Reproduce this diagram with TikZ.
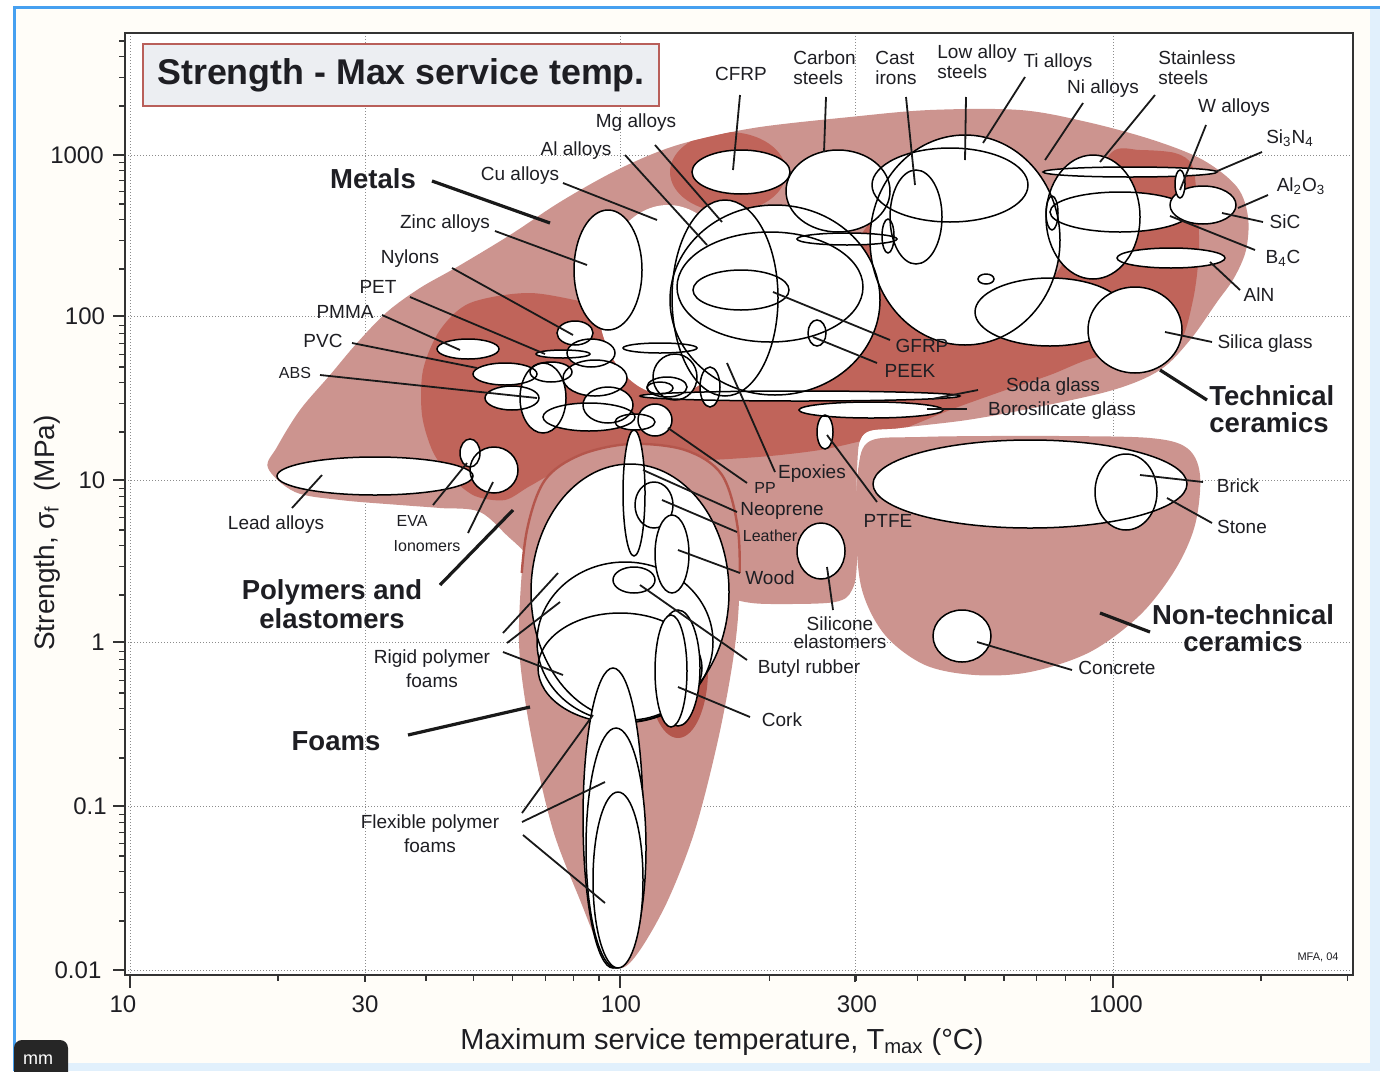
\documentclass[tikz,border=0pt]{standalone}
\usepackage{fontspec}
\setmainfont{Liberation Sans}
\definecolor{envl}{RGB}{204,148,143}
\definecolor{envd}{RGB}{192,100,90}
\definecolor{envo}{RGB}{180,86,76}
\definecolor{labc}{RGB}{30,30,35}
\definecolor{scrblue}{RGB}{70,160,240}
\definecolor{paleblue}{RGB}{225,240,252}
\definecolor{cream}{RGB}{255,253,248}
\definecolor{titlefill}{RGB}{236,238,242}
\definecolor{titledraw}{RGB}{185,95,90}
\definecolor{gridc}{RGB}{140,140,140}
\begin{document}
\begin{tikzpicture}[x=0.5pt,y=-0.5pt,
  outl/.style={draw=black, line width=0.75pt},
  leader/.style={draw=black!90, line width=0.9pt},
  bleader/.style={draw=black!90, line width=1.6pt},
  lab/.style={font=\fontsize{9.5}{10}\selectfont, text=labc, inner sep=0pt},
  slab/.style={font=\fontsize{8}{9}\selectfont, text=labc, inner sep=0pt},
  blab/.style={font=\fontsize{13.75}{13.5}\selectfont\bfseries, text=labc, inner sep=0pt},
  ticklab/.style={font=\fontsize{12}{12}\selectfont, text=labc, inner sep=0pt},
  gridl/.style={draw=gridc, line width=0.5pt, densely dotted},
  tickl/.style={draw=black!80, line width=0.6pt}]
\useasboundingbox (0,0) rectangle (1380,1071);
% screenshot background
\fill[white] (0,0) rectangle (1380,1071);
\fill[cream] (14,7) rectangle (1380,1071);
\fill[paleblue] (1370,7) rectangle (1380,1071);
\fill[paleblue] (14,1063) rectangle (1380,1071);
\draw[scrblue, line width=1.5pt] (14,1071) -- (14,7) -- (1380,7);
\fill[white] (125,33) rectangle (1353,975);
% grid
\foreach \gx in {130,365,620,855,1113} \draw[gridl] (\gx,33) -- (\gx,975);
\foreach \gy in {155,316,480,642,806,970} \draw[gridl] (125,\gy) -- (1353,\gy);
% envelopes
\def\Upath{plot[smooth cycle, tension=0.55] coordinates {(268,468) (277,447) (300,410) (330,375) (357,343) (387,312) (420,288) (457,267) (510,235) (560,202) (613,172) (660,151) (700,139) (760,127) (850,117) (930,110) (1020,110) (1087,122) (1153,140) (1203,160) (1237,187) (1248,217) (1246,250) (1234,278) (1217,302) (1190,340) (1160,370) (1113,390) (1033,408) (967,420) (900,428) (864,434) (857,470) (857,560) (852,590) (835,602) (780,604) (745,602) (700,590) (620,580) (545,565) (512,540) (480,512) (440,508) (400,505) (340,500) (295,492)}}
\def\Fpath{plot[smooth cycle, tension=0.55] coordinates {(520,600) (527,530) (545,480) (580,455) (630,444) (685,450) (722,475) (738,530) (739,600) (733,660) (718,740) (695,830) (668,900) (640,950) (621,968) (602,952) (580,900) (553,830) (532,740) (520,660)}}
\def\Npath{plot[smooth cycle, tension=0.55] coordinates {(870,441) (920,437) (990,436) (1060,436) (1150,438) (1187,448) (1200,475) (1195,525) (1175,570) (1140,615) (1090,652) (1030,672) (975,675) (925,665) (885,635) (862,590) (856,530) (858,470)}}
\fill[envl] \Upath;
\fill[envl] \Npath;
\begin{scope}
\clip \Upath;
\fill[envd] plot[smooth cycle, tension=0.5] coordinates {(470,303) (440,330) (423,370) (422,415) (433,452) (452,478) (475,496) (505,500) (530,486) (565,468) (610,463) (660,461) (710,460) (770,456) (820,450) (857,442) (900,430) (950,410) (1000,392) (1050,375) (1093,358) (1140,352) (1178,345) (1193,300) (1199,250) (1197,200) (1192,165) (1175,153) (1140,150) (1112,152) (1085,200) (1060,268) (1000,330) (930,310) (885,262) (872,222) (840,265) (780,305) (690,320) (600,305) (530,293)};
\fill[envd] (728,172) ellipse [x radius=58, y radius=40];
\end{scope}
\fill[envl] \Fpath;
\begin{scope}
\clip (500,400) rectangle (760,572);
\draw[envo, line width=1.2pt] \Fpath;
\end{scope}
\fill[envo] (678,670) ellipse [x radius=30, y radius=68];
% white region without outline
\fill[white] (668,300) ellipse [x radius=70, y radius=95];
% group A material bubbles
\newcommand\shapesA{%
 \E{965}{240}{95}{105}\E{950}{185}{78}{37}\E{1093}{217}{47}{62}\E{1050}{312}{75}{34}%
 \E{986}{279}{8}{5}\E{838}{191}{52}{41}\E{916}{217}{26}{47}\E{888}{236}{6}{17}\E{847}{239}{50}{6}%
 \E{741}{172}{49}{22}\E{775}{300}{105}{95}\E{725}{298}{53}{98}\E{770}{287}{93}{55}\E{741}{290}{48}{20}%
 \E{817}{333}{9}{13}\E{608}{270}{34}{60}\E{1130}{172}{87}{5}\E{1120}{212}{70}{20}\E{1052}{213}{6}{17}%
 \E{1171}{258}{54}{10}\E{800}{396}{160}{5}\E{871}{410}{72}{8}\E{825}{432}{8}{17}\E{821}{551}{24}{28}%
 \E{1030}{484}{157}{44}\E{1126}{492}{31}{38}\E{962}{636}{29}{26}%
 \E{375}{476}{98}{19}\E{470}{453}{10}{14}\E{494}{470}{24}{23}%
 \E{468}{349}{31}{10}\E{505}{374}{32}{11}\E{512}{398}{27}{12}\E{543}{398}{23}{35}\E{551}{372}{21}{10}%
 \E{575}{333}{18}{12}\E{591}{353}{24}{14}\E{563}{354}{27}{4}\E{595}{378}{32}{18}\E{608}{405}{25}{18}%
 \E{589}{417}{46}{14}\E{635}{422}{20}{8}\E{655}{420}{17}{16}\E{660}{348}{37}{5}\E{675}{377}{22}{23}%
 \E{667}{387}{20}{10}\E{660}{388}{13}{6}\E{710}{387}{10}{20}%
 \E{630}{592}{99}{128}\E{625}{642}{88}{80}\E{620}{668}{82}{55}%
 \E{634}{493}{11}{63}\E{654}{505}{19}{23}\E{634}{580}{21}{13}}
\def\E#1#2#3#4{\fill[white] (#1,#2) ellipse [x radius=#3, y radius=#4];}
\shapesA
\def\E#1#2#3#4{\draw[outl] (#1,#2) ellipse [x radius=#3, y radius=#4];}
\shapesA
% group B, drawn one over another
\def\E#1#2#3#4{\filldraw[outl, fill=white] (#1,#2) ellipse [x radius=#3, y radius=#4];}
\E{1135}{330}{47}{43}\E{1203}{205}{33}{19}\E{1180}{184}{5}{14}\E{672}{554}{17}{39}
\E{613}{818}{30}{150}\E{616}{848}{30}{120}\E{618}{880}{25}{88}
\E{678}{668}{22}{58}\E{671}{671}{16}{56}
% leaders
\newcommand\leader[3]{\coordinate (#1-a) at #2; \coordinate (#1-b) at #3; \draw[leader] (#1-a) -- (#1-b);}
\newcommand\bleader[3]{\coordinate (#1-a) at #2; \coordinate (#1-b) at #3; \draw[bleader] (#1-a) -- (#1-b);}
\leader{cfrp}{(740,95)}{(733,170)}
\leader{carbon}{(826,97)}{(824,152)}
\leader{cast}{(906,97)}{(915,185)}
\leader{lowal}{(966,97)}{(965,160)}
\leader{ti}{(1025,77)}{(983,143)}
\leader{ni}{(1083,103)}{(1045,160)}
\leader{stain}{(1155,95)}{(1100,162)}
\leader{w}{(1206,125)}{(1180,190)}
\leader{sin}{(1262,152)}{(1215,172)}
\leader{alo}{(1268,195)}{(1238,208)}
\leader{sic}{(1263,222)}{(1222,213)}
\leader{bc}{(1255,250)}{(1170,216)}
\leader{aln}{(1240,290)}{(1210,262)}
\leader{silica}{(1212,342)}{(1165,332)}
\leader{soda}{(978,390)}{(932,399)}
\leader{boro}{(967,409)}{(927,409)}
\leader{gfrp}{(890,340)}{(773,292)}
\leader{peek}{(877,363)}{(813,337)}
\leader{epox}{(775,472)}{(727,363)}
\leader{pp}{(747,483)}{(668,428)}
\leader{neop}{(737,512)}{(643,470)}
\leader{leath}{(737,532)}{(662,500)}
\leader{wood}{(740,573)}{(678,550)}
\leader{ptfe}{(877,502)}{(827,435)}
\leader{silic}{(833,610)}{(827,567)}
\leader{butyl}{(747,660)}{(640,585)}
\leader{cork}{(750,717)}{(678,687)}
\leader{brick}{(1203,482)}{(1140,475)}
\leader{stone}{(1212,523)}{(1167,498)}
\leader{concr}{(1072,670)}{(977,642)}
\leader{mg}{(655,145)}{(722,222)}
\leader{al}{(625,155)}{(707,245)}
\leader{cu}{(563,183)}{(657,220)}
\leader{zinc}{(495,231)}{(587,265)}
\leader{nyl}{(452,268)}{(573,335)}
\leader{pet}{(410,297)}{(545,354)}
\leader{pmma}{(382,315)}{(460,350)}
\leader{pvc}{(352,343)}{(477,368)}
\leader{abs}{(320,375)}{(537,398)}
\leader{lead}{(292,508)}{(322,475)}
\leader{eva}{(433,505)}{(467,463)}
\leader{iono}{(468,533)}{(493,482)}
\leader{rig1}{(503,633)}{(558,573)}
\leader{rig2}{(507,643)}{(560,602)}
\leader{rig3}{(503,652)}{(563,675)}
\leader{flex1}{(522,813)}{(593,715)}
\leader{flex2}{(522,822)}{(605,782)}
\leader{flex3}{(523,835)}{(605,903)}
\bleader{metals}{(432,181)}{(550,223)}
\bleader{polym}{(440,585)}{(513,510)}
\bleader{foams}{(408,735)}{(530,707)}
\bleader{techc}{(1207,400)}{(1160,370)}
\bleader{ntc}{(1150,632)}{(1100,613)}
% labels
\node[lab] (l-cfrp) at (741,74) {CFRP};
\node[lab, align=left, anchor=west] (l-carbon) at (793,68) {Carbon\\steels};
\node[lab, align=left, anchor=west] (l-cast) at (875,68) {Cast\\irons};
\node[lab, align=left, anchor=west] (l-lowal) at (937,62) {Low alloy\\steels};
\node[lab] (l-ti) at (1058,63) {Ti alloys};
\node[lab] (l-ni) at (1103,89) {Ni alloys};
\node[lab, align=left, anchor=west] (l-stain) at (1158,68) {Stainless\\steels};
\node[lab] (l-w) at (1234,108) {W alloys};
\node[lab] (l-sin) at (1290,138) {Si\textsubscript{3}N\textsubscript{4}};
\node[lab] (l-alo) at (1301,186) {Al\textsubscript{2}O\textsubscript{3}};
\node[lab] (l-sic) at (1285,222) {SiC};
\node[lab] (l-bc) at (1283,258) {B\textsubscript{4}C};
\node[lab] (l-aln) at (1259,295) {AlN};
\node[lab] (l-silica) at (1265,344) {Silica glass};
\node[blab, align=left, anchor=west] (l-techc) at (1209,409) {Technical\\ceramics};
\node[lab] (l-gfrp) at (922,346) {GFRP};
\node[lab] (l-peek) at (910,371) {PEEK};
\node[lab] (l-soda) at (1053,387) {Soda glass};
\node[lab] (l-boro) at (1062,411) {Borosilicate glass};
\node[lab] (l-epox) at (812,474) {Epoxies};
\node[slab] (l-pp) at (765,488) {PP};
\node[lab] (l-neop) at (782,511) {Neoprene};
\node[slab] (l-leath) at (770,536) {Leather};
\node[lab] (l-wood) at (770,578) {Wood};
\node[lab] (l-ptfe) at (888,521) {PTFE};
\node[lab, align=center, font=\fontsize{9.5}{9}\selectfont] (l-silic) at (840,633) {Silicone\\elastomers};
\node[lab] (l-butyl) at (809,669) {Butyl rubber};
\node[lab] (l-cork) at (782,720) {Cork};
\node[lab] (l-brick) at (1238,486) {Brick};
\node[lab] (l-stone) at (1242,527) {Stone};
\node[blab, align=center] (l-ntc) at (1243,628) {Non-technical\\ceramics};
\node[lab] (l-concr) at (1117,668) {Concrete};
\node[lab] (l-mg) at (636,123) {Mg alloys};
\node[lab] (l-al) at (576,151) {Al alloys};
\node[lab] (l-cu) at (520,176) {Cu alloys};
\node[blab] (l-metals) at (373,179) {Metals};
\node[lab] (l-zinc) at (445,224) {Zinc alloys};
\node[lab] (l-nyl) at (410,259) {Nylons};
\node[lab] (l-pet) at (378,287) {PET};
\node[lab] (l-pmma) at (345,312) {PMMA};
\node[lab] (l-pvc) at (323,341) {PVC};
\node[slab] (l-abs) at (295,373) {ABS};
\node[lab] (l-lead) at (276,525) {Lead alloys};
\node[slab] (l-eva) at (412,521) {EVA};
\node[slab] (l-iono) at (427,546) {Ionomers};
\node[blab, align=center, font=\fontsize{13.75}{14.5}\selectfont\bfseries] (l-polym) at (332,604) {Polymers and\\elastomers};
\node[lab, align=center, font=\fontsize{9.5}{12}\selectfont] (l-rigid) at (432,669) {Rigid polymer\\foams};
\node[blab] (l-foams) at (336,741) {Foams};
\node[lab, align=center, font=\fontsize{9.5}{12}\selectfont] (l-flex) at (430,834) {Flexible polymer\\foams};
\node[text=labc, inner sep=0pt, font=\fontsize{5.5}{6}\selectfont] (l-mfa) at (1318,957) {MFA, 04};
% title
\node[draw=titledraw, fill=titlefill, line width=1pt, minimum width=258pt, minimum height=31pt, inner sep=0pt, text=labc, font=\fontsize{17.9}{18}\selectfont\bfseries] (title) at (401,75) {Strength - Max service temp.};
% frame and ticks
\draw[black!80, line width=0.9pt] (125,33) rectangle (1353,975);
\foreach \d in {-2,...,3} {
  \foreach \m in {2,...,9} {
    \pgfmathsetmacro\yy{970-163*(\d+2+log10(\m))}
    \ifdim\yy pt>36pt \draw[tickl] (125,\yy) -- (119,\yy); \fi
  }
}
\foreach \yy in {155,316,480,642,806,970} \draw[tickl] (125,\yy) -- (113,\yy);
\foreach \d in {1,2,3} {
  \foreach \m in {2,...,9} {
    \pgfmathsetmacro\xx{130+491.5*(\d-1+log10(\m))}
    \ifdim\xx pt<1350pt \draw[tickl] (\xx,975) -- (\xx,981); \fi
  }
}
\foreach \xx in {130,620,1113} \draw[tickl] (\xx,975) -- (\xx,988);
\foreach \xx in {365,855} \draw[tickl] (\xx,975) -- (\xx,982);
\node[ticklab] (yt1) at (77,155) {1000};
\node[ticklab] (yt2) at (85,316) {100};
\node[ticklab] (yt3) at (92,480) {10};
\node[ticklab] (yt4) at (98,642) {1};
\node[ticklab] (yt5) at (90,806) {0.1};
\node[ticklab] (yt6) at (78,970) {0.01};
\node[ticklab] (xt1) at (123,1004) {10};
\node[ticklab] (xt2) at (365,1004) {30};
\node[ticklab] (xt3) at (621,1004) {100};
\node[ticklab] (xt4) at (857,1004) {300};
\node[ticklab] (xt5) at (1116,1004) {1000};
\node[text=labc, inner sep=0pt, rotate=90, font=\fontsize{14}{14}\selectfont] (ytitle) at (47,533) {Strength, σ\textsubscript{f}\enspace(MPa)};
\node[text=labc, inner sep=0pt, font=\fontsize{14.5}{15}\selectfont] (xtitle) at (722,1042) {Maximum service temperature, T\textsubscript{max} (°C)};
% mm tab
\fill[black!85, rounded corners=4pt] (14,1040) rectangle (68,1085);
\node[text=white, inner sep=0pt, font=\fontsize{9}{9}\selectfont] (mmtab) at (38,1060) {mm};
\end{tikzpicture}
\end{document}
